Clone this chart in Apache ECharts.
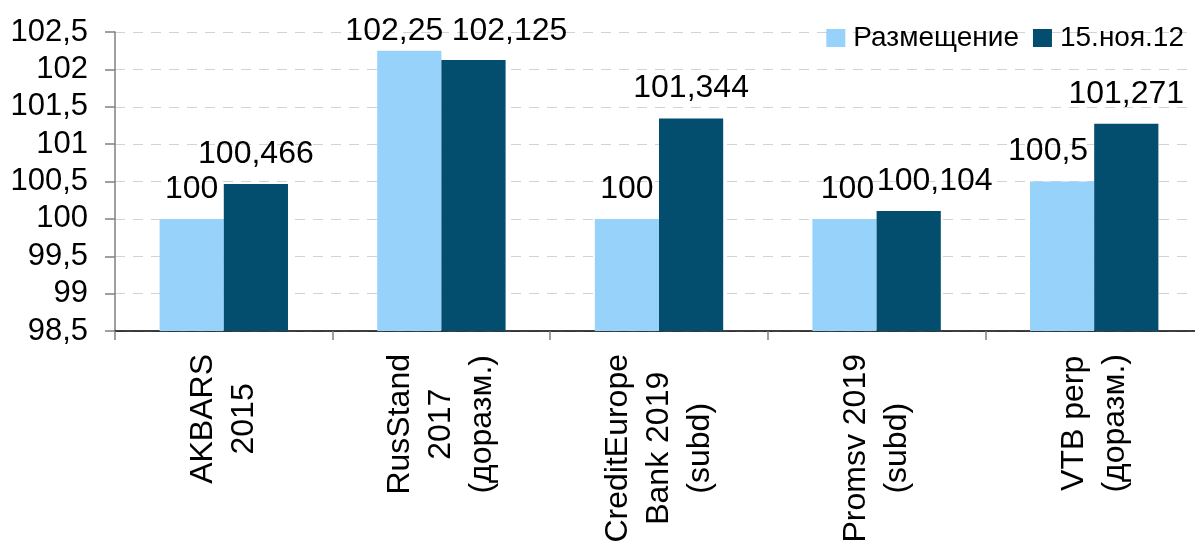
<!DOCTYPE html>
<html><head><meta charset="utf-8">
<script src="https://cdn.jsdelivr.net/npm/echarts@6/dist/echarts.min.js"></script>
<style>html,body{margin:0;padding:0;background:#fff}#c{width:1195px;height:541px}</style>
</head><body><div id="c"></div>
<script>
const categories = ['AKBARS\n2015', 'RusStand\n2017\n(доразм.)', 'CreditEurope\nBank 2019\n(subd)', 'Promsv 2019\n(subd)', 'VTB perp\n(доразм.)'];
const seriesNames = ['Размещение', '15.ноя.12'];
const placement = [100, 102.25, 100, 100, 100.5];
const current = [100.466, 102.125, 101.344, 100.104, 101.271];
const yMin = 98.5, yMax = 102.5, yStep = 0.5;
// label nudges (as in the source, where overlapping labels were moved)
const placementLabelShift = [[0, 0], [-15, 10], [0, 0], [3, 0], [-14, 0]];
const currentLabelShift = [[0, 0], [36, 1], [0, 0], [26, 0], [0, 0]];

const FONT = "'Liberation Sans', Arial, sans-serif";
const fmt = v => String(v).replace('.', ',');

function items(vals, shifts) {
  return vals.map((v, i) => ({ value: v, label: { offset: shifts[i] } }));
}

const chart = echarts.init(document.getElementById('c'), null, { renderer: 'canvas' });
chart.setOption({
  animation: false,
  textStyle: { fontFamily: FONT },
  grid: { left: 115, right: -8, top: 32, bottom: 210, containLabel: false, outerBoundsMode: 'none' },
  legend: {
    right: 6, top: 19, itemWidth: 19, itemHeight: 18, itemGap: 14,
    selectedMode: false, icon: 'rect',
    textStyle: { fontSize: 28, color: '#000', fontFamily: FONT, padding: [0, 0, 0, 3] },
    data: seriesNames
  },
  xAxis: {
    type: 'category', data: categories,
    axisLine: { lineStyle: { color: '#000', width: 1.5 } },
    axisTick: { show: true, length: 9, lineStyle: { color: '#808080', width: 1.5 } },
    axisLabel: {
      interval: 0, rotate: 90, margin: 23, color: '#000',
      formatter: v => v.split('\n').map(l => '{c|' + l + '}').join('\n'),
      rich: { c: { fontSize: 32, lineHeight: 41, align: 'center', fontFamily: FONT, color: '#000' } }
    }
  },
  yAxis: {
    type: 'value', min: yMin, max: yMax, interval: yStep,
    axisLine: { show: true, lineStyle: { color: '#808080', width: 1.5 } },
    axisTick: { show: true, length: 10, lineStyle: { color: '#808080', width: 1.5 } },
    axisLabel: { fontSize: 31, color: '#000', margin: 27, fontFamily: FONT, formatter: v => fmt(v) },
    splitLine: { show: true, lineStyle: { color: '#D3D3D3', width: 1, type: [10, 8] } }
  },
  series: [
    {
      name: seriesNames[0], type: 'bar', data: items(placement, placementLabelShift),
      barGap: '0%', barCategoryGap: '41%',
      itemStyle: { color: '#97D2FB' },
      label: { show: true, position: 'top', distance: 14, fontSize: 32, color: '#000', fontFamily: FONT, formatter: p => fmt(p.value) }
    },
    {
      name: seriesNames[1], type: 'bar', data: items(current, currentLabelShift),
      barGap: '0%', barCategoryGap: '41%',
      itemStyle: { color: '#034D6F' },
      label: { show: true, position: 'top', distance: 14, fontSize: 32, color: '#000', fontFamily: FONT, formatter: p => fmt(p.value) }
    }
  ]
});
</script>
</body></html>
